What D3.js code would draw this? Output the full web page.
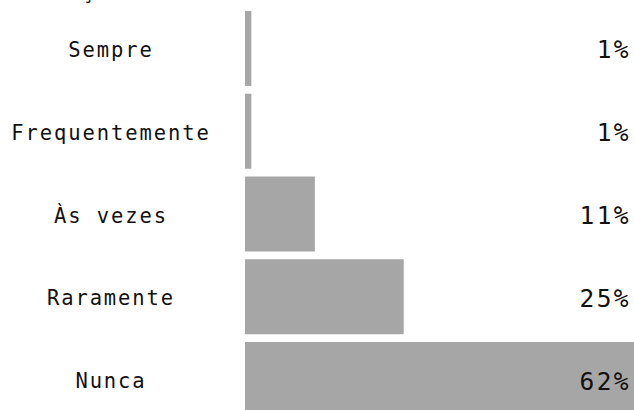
<!DOCTYPE html>
<html>
<head>
<meta charset="utf-8">
<script src="https://cdn.jsdelivr.net/npm/d3@7"></script>
<style>
  html, body { margin: 0; padding: 0; background: #fff; }
  svg { display: block; }
  text { font-family: "DejaVu Sans Mono", monospace; fill: #111; }
  .cat { font-size: 20.5px; letter-spacing: 1.9px; }
  .val { font-size: 24.5px; letter-spacing: 2.4px; }
</style>
</head>
<body>
<svg id="chart" width="634" height="410"></svg>
<script>
// Response frequency shares (percent)
const title = "Situação";
const categories = ["Sempre", "Frequentemente", "Às vezes", "Raramente", "Nunca"];
const values = [1, 1, 11, 25, 62];
const valueLabels = ["1%", "1%", "11%", "25%", "62%"];

const svg = d3.select("#chart");

const x = d3.scaleLinear().domain([0, 100]).range([245, 880]);
const y = d3.scaleBand().domain(categories).range([11, 417]).paddingInner(0.094).paddingOuter(0);

// Title (sits above the plotting area)
svg.append("text")
  .attr("class", "cat")
  .attr("x", 10)
  .attr("y", -1)
  .text(title);

// Bars
svg.append("g").selectAll("rect")
  .data(values)
  .join("rect")
  .attr("x", x(0))
  .attr("y", (d, i) => y(categories[i]))
  .attr("width", d => x(d) - x(0))
  .attr("height", y.bandwidth())
  .attr("fill", "#a6a6a6");

// Category labels
svg.append("g").selectAll("text")
  .data(categories)
  .join("text")
  .attr("class", "cat")
  .attr("x", 111)
  .attr("y", d => y(d) + y.bandwidth() / 2 + 1.5)
  .attr("text-anchor", "middle")
  .attr("dominant-baseline", "central")
  .text(d => d);

// Value labels
svg.append("g").selectAll("text")
  .data(valueLabels)
  .join("text")
  .attr("class", "val")
  .attr("x", 631)
  .attr("y", (d, i) => y(categories[i]) + y.bandwidth() / 2 + 1.5)
  .attr("text-anchor", "end")
  .attr("dominant-baseline", "central")
  .text(d => d);
</script>
</body>
</html>
